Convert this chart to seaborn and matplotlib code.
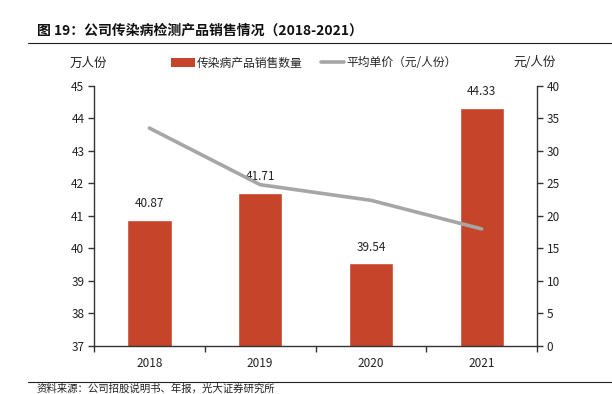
import numpy as np
import pandas as pd
import matplotlib
matplotlib.use("Agg")
import matplotlib.pyplot as plt
from matplotlib.lines import Line2D
from matplotlib.patches import Patch
import seaborn as sns

years = ["2018", "2019", "2020", "2021"]
sales = [40.87, 41.71, 39.54, 44.33]
price = [33.5, 24.8, 22.4, 18.0]
title = "图 19：公司传染病检测产品销售情况（2018-2021）"
source = "资料来源：公司招股说明书、年报，光大证券研究所"
bar_name = "传染病产品销售数量"
line_name = "平均单价（元/人份）"
left_unit = "万人份"
right_unit = "元/人份"

sns.set_theme(style="white")
plt.rcParams['font.family'] = ['Noto Sans CJK SC', 'DejaVu Sans']

bar_color = "#C5442A"
line_color = "#A6A6A6"

df = pd.DataFrame({"year": years, "sales": sales, "price": price})

fig = plt.figure(figsize=(6.12, 3.94), dpi=100)
ax = fig.add_axes([0.1536, 0.1218, 0.7239, 0.6604])

sns.barplot(data=df, x="year", y="sales", color=bar_color, width=0.4,
            saturation=1, ax=ax, zorder=2)
ax.set_ylim(37, 45)
ax.set_xlim(-0.5, len(years) - 0.5)
ax.set_yticks(np.arange(37, 46, 1))
ax.set_xlabel("")
ax.set_ylabel("")
for b, v in zip(ax.patches, sales):
    ax.annotate(f"{v:.2f}", (b.get_x() + b.get_width() / 2, v),
                xytext=(0, 7), textcoords="offset points",
                ha="center", va="bottom", fontsize=8.5, color="#222222")

ax2 = ax.twinx()
sns.lineplot(x=np.arange(len(years)), y=price, ax=ax2, color=line_color,
             linewidth=2.6, zorder=3)
ax2.set_ylim(0, 40)
ax2.set_yticks(np.arange(0, 41, 5))
ax2.set_xlim(-0.5, len(years) - 0.5)
ax2.set_ylabel("")

# ticks: category boundaries as major ticks, labels at centers
ax.set_xticks(np.arange(-0.5, len(years), 1.0))
ax.set_xticklabels([])
ax.set_xticks(np.arange(len(years)), minor=True)
ax.set_xticklabels(years, minor=True)
ax.tick_params(axis="x", which="major", direction="out", length=4, width=1, color="#333333", bottom=True)
ax.tick_params(axis="x", which="minor", length=0, pad=8, labelsize=8.5, labelcolor="#222222")
ax.tick_params(axis="y", direction="out", length=4, width=1, color="#333333", left=True,
               labelsize=8.5, labelcolor="#222222", pad=3)
ax2.tick_params(axis="y", direction="out", length=4, width=1, color="#333333", right=True,
                labelsize=8.5, labelcolor="#222222", pad=3)

for a in (ax, ax2):
    a.spines["top"].set_visible(False)
    for s in ("left", "right", "bottom"):
        a.spines[s].set_color("#333333")
        a.spines[s].set_linewidth(1)
    a.grid(False)
ax2.spines["left"].set_visible(False)
ax2.spines["bottom"].set_visible(False)
ax.spines["right"].set_visible(False)

# title and rules
fig.text(37 / 612, 1 - 31 / 394, title, fontsize=10, fontweight="bold",
         ha="left", va="center", color="#111111")
fig.add_artist(Line2D([28 / 612, 1.0], [1 - 43 / 394] * 2, color="#222222", lw=0.8))
fig.add_artist(Line2D([28 / 612, 1.0], [1 - 382 / 394] * 2, color="#222222", lw=0.8))
fig.text(37 / 612, 1 - 389 / 394, source, fontsize=7.5, ha="left", va="center", color="#222222")

# units
fig.text(88 / 612, 1 - 63 / 394, left_unit, fontsize=9, ha="center", va="center", color="#222222")
fig.text(535 / 612, 1 - 63 / 394, right_unit, fontsize=9, ha="center", va="center", color="#222222")

# legend
handles = [Patch(facecolor=bar_color, edgecolor="none"),
           Line2D([0], [0], color=line_color, lw=2.6)]
fig.legend(handles, [bar_name, line_name], loc="center", bbox_to_anchor=(314 / 612, 1 - 63 / 394),
           ncol=2, frameon=False, fontsize=8.5, handlelength=2.0, handleheight=0.7,
           handletextpad=0.2, columnspacing=1.5)

fig.savefig("out.png", dpi=100)
